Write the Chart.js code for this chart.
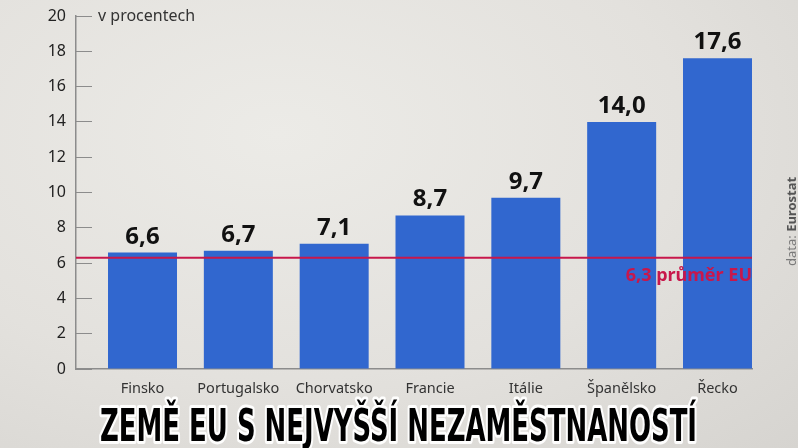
<!DOCTYPE html>
<html>
<head>
<meta charset="utf-8">
<script src="https://cdn.jsdelivr.net/npm/chart.js@4"></script>
<style>
  html, body { margin: 0; padding: 0; }
  body {
    width: 798px; height: 448px; overflow: hidden;
    background: radial-gradient(ellipse at 35% 30%, #ecebe7 0%, #e3e1dd 55%, #d6d4d0 100%);
  }
  canvas { display: block; }
</style>
</head>
<body>
<canvas id="Graph" width="798" height="448"></canvas>
<script>
// zeme EU s nejvyssi nezamestnanosti, v procentech
var countries = ["Finsko", "Portugalsko", "Chorvatsko", "Francie", "Itálie", "Španělsko", "Řecko"];
var unemployment = [6.6, 6.7, 7.1, 8.7, 9.7, 14.0, 17.6];
var euAverage = 6.3;
var euAverageText = "6,3 průměr EU";
var unitText = "v procentech";
var titleText = "ZEMĚ EU S NEJVYŠŠÍ NEZAMĚSTNANOSTÍ";
var sourceLabel = "data: ";
var sourceName = "Eurostat";

function fmt(v) {
    return v.toFixed(1).replace(".", ",");
}

var points = [];
for (var i = 0; i < unemployment.length; i++) {
    points.push({x: i, y: unemployment[i]});
}

var extras = {
    id: "extras",
    afterDatasetsDraw: function(chart) {
        var ctx = chart.ctx;
        var area = chart.chartArea;
        var ys = chart.scales.y;

        // prumer EU
        var yAvg = ys.getPixelForValue(euAverage);
        ctx.save();
        ctx.strokeStyle = "#c8174b";
        ctx.lineWidth = 2;
        ctx.beginPath();
        ctx.moveTo(area.left, yAvg);
        ctx.lineTo(area.right, yAvg);
        ctx.stroke();
        ctx.fillStyle = "#c8174b";
        ctx.font = "bold 18px 'Noto Sans'";
        ctx.textAlign = "right";
        ctx.textBaseline = "middle";
        ctx.fillText(euAverageText, area.right, yAvg + 18);

        // hodnoty nad sloupci
        var meta = chart.getDatasetMeta(0);
        ctx.fillStyle = "#111";
        ctx.font = "bold 24px 'Noto Sans'";
        ctx.textAlign = "center";
        ctx.textBaseline = "alphabetic";
        meta.data.forEach(function(bar, idx) {
            ctx.fillText(fmt(unemployment[idx]), bar.x, bar.y - 9);
        });

        // jednotka
        ctx.fillStyle = "#333";
        ctx.font = "16px 'Noto Sans'";
        ctx.textAlign = "left";
        ctx.textBaseline = "middle";
        ctx.fillText(unitText, area.left + 22, ys.getPixelForValue(20));

        // zdroj, svisle
        ctx.translate(792, 266);
        ctx.rotate(-Math.PI / 2);
        ctx.textAlign = "left";
        ctx.font = "13px 'Noto Sans'";
        ctx.fillStyle = "#7a7a7a";
        ctx.fillText(sourceLabel, 0, 0);
        var w = ctx.measureText(sourceLabel).width;
        ctx.font = "bold 13px 'Noto Sans'";
        ctx.fillStyle = "#555";
        ctx.fillText(sourceName, w, 0);
        ctx.restore();

        // titulek
        ctx.save();
        ctx.font = "bold 44px 'DejaVu Sans Condensed'";
        var tw = ctx.measureText(titleText).width;
        var sx = 597 / tw;
        ctx.translate(398.5, 441);
        ctx.scale(sx, 1);
        ctx.textAlign = "center";
        ctx.textBaseline = "alphabetic";
        ctx.lineJoin = "round";
        ctx.strokeStyle = "rgba(255,255,255,0.95)";
        ctx.lineWidth = 6;
        ctx.strokeText(titleText, 0, 0);
        ctx.fillStyle = "#000";
        ctx.fillText(titleText, 0, 0);
        ctx.restore();
    }
};

var chart = new Chart("Graph", {
    type: "bar",
    data: {
        datasets: [{
            data: points,
            backgroundColor: "#3167cf",
            borderWidth: 0
        }]
    },
    options: {
        responsive: false,
        animation: false,
        layout: {padding: {top: 0, right: 46, bottom: 0, left: 0}},
        plugins: {
            legend: {display: false},
            tooltip: {enabled: false}
        },
        scales: {
            x: {
                type: "linear",
                offset: false,
                min: -0.694,
                max: 6.36,
                grid: {display: false, offset: false},
                border: {display: true, color: "#8c8c8c", width: 1.5},
                ticks: {
                    stepSize: 1,
                    includeBounds: false,
                    autoSkip: false,
                    maxRotation: 0,
                    padding: 3,
                    color: "#333",
                    font: {family: "'Noto Sans'", size: 14.5},
                    callback: function(v) { return countries[v] || ""; }
                },
                afterFit: function(s) { s.height = 79; }
            },
            y: {
                min: 0,
                max: 20,
                grid: {
                    display: true,
                    drawOnChartArea: false,
                    drawTicks: true,
                    tickLength: -16,
                    color: "#8c8c8c",
                    lineWidth: 1
                },
                border: {display: true, color: "#8c8c8c", width: 1.5},
                ticks: {
                    stepSize: 2,
                    padding: 26,
                    color: "#222",
                    font: {family: "'Noto Sans'", size: 16}
                },
                afterFit: function(s) {
                    s.width = 76;
                    s.paddingTop = 16;
                    s.paddingBottom = 0;
                }
            }
        }
    },
    plugins: [extras]
});
</script>
</body>
</html>
